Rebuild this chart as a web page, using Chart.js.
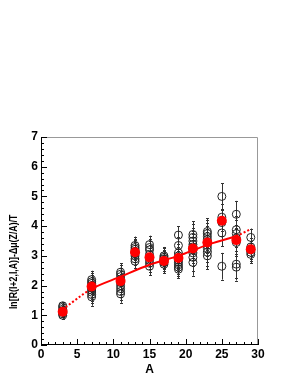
<!DOCTYPE html>
<html>
<head>
<meta charset="utf-8">
<script src="https://cdn.jsdelivr.net/npm/chart.js@4"></script>
<style>
  html, body { margin: 0; padding: 0; background: #fff; }
  canvas { display: block; }
</style>
</head>
<body>
<canvas id="chart" width="298" height="385"></canvas>
<script>
// A values of the columns
const massNumbers = [3, 7, 11, 13, 15, 17, 19, 21, 23, 25, 27, 29];

// open circles, one list per column
const circleValues = [
    [1.0, 1.05, 1.1, 1.15, 1.2, 1.27, 1.32],
    [1.62, 1.7, 1.78, 1.85, 1.92, 2.0, 2.07, 2.13, 2.2],
    [1.72, 1.8, 1.9, 2.0, 2.1, 2.2, 2.3, 2.38, 2.45],
    [2.82, 2.9, 3.0, 3.08, 3.15, 3.22, 3.28, 3.35],
    [2.65, 2.75, 2.85, 2.95, 3.05, 3.2, 3.28, 3.38],
    [2.72, 2.78, 2.85, 2.9, 2.95, 3.0],
    [2.55, 2.62, 2.7, 2.78, 2.85, 2.92, 3.0, 3.1, 3.35, 3.7],
    [2.78, 2.95, 3.1, 3.2, 3.3, 3.38, 3.5, 3.62, 3.72],
    [3.0, 3.12, 3.25, 3.35, 3.45, 3.55, 3.65, 3.75, 3.82],
    [2.65, 3.77, 4.12, 4.3, 5.0],
    [2.62, 2.72, 3.45, 3.6, 3.75, 3.88, 4.4],
    [3.05, 3.12, 3.2, 3.3, 3.62]
];

// error of the circles in each column
const circleErrors = [0.12, 0.3, 0.3, 0.3, 0.3, 0.3, 0.3, 0.45, 0.45, 0.45, 0.45, 0.3];

// red means
const meanValues = [1.12, 1.97, 2.15, 3.12, 2.95, 2.83, 2.93, 3.25, 3.45, 4.18, 3.53, 3.22];

// fit line
const fitA = [3, 7, 11, 15, 19, 23, 27, 29];
const fitValues = [1.2, 1.89, 2.3, 2.7, 3.0, 3.37, 3.67, 3.9];

const xTicks = [0, 5, 10, 15, 20, 25, 30];
const yTitle = 'ln[R(I+2,I,A)]-\u0394\u03bc(Z/A)/T';

const circlePoints = [];
massNumbers.forEach(function(a, i) {
    circleValues[i].forEach(function(v) {
        circlePoints.push({ x: a, y: v, err: circleErrors[i] });
    });
});

const meanPoints = massNumbers.map(function(a, i) { return { x: a, y: meanValues[i] }; });
const fitPoints = fitA.map(function(a, i) { return { x: a, y: fitValues[i] }; });

// error bars with small caps, drawn under the markers
const errorBars = {
    id: 'errorBars',
    beforeDatasetsDraw: function(chart) {
        const ctx = chart.ctx;
        const xs = chart.scales.x, ys = chart.scales.y;
        ctx.save();
        ctx.strokeStyle = '#333';
        ctx.lineWidth = 1;
        circlePoints.forEach(function(p) {
            const px = Math.round(xs.getPixelForValue(p.x)) + 0.5;
            const top = ys.getPixelForValue(p.y + p.err);
            const bot = ys.getPixelForValue(p.y - p.err);
            ctx.beginPath();
            ctx.moveTo(px, top);
            ctx.lineTo(px, bot);
            ctx.moveTo(px - 1.5, Math.round(top) + 0.5);
            ctx.lineTo(px + 1.5, Math.round(top) + 0.5);
            ctx.moveTo(px - 1.5, Math.round(bot) + 0.5);
            ctx.lineTo(px + 1.5, Math.round(bot) + 0.5);
            ctx.stroke();
        });
        ctx.restore();
    }
};

// ROOT style frame with inward ticks, and the y title placed like ROOT does
const frame = {
    id: 'frame',
    afterDraw: function(chart) {
        const ctx = chart.ctx;
        const a = chart.chartArea;
        const xs = chart.scales.x, ys = chart.scales.y;
        ctx.save();
        ctx.lineWidth = 1;
        ctx.strokeStyle = '#999';
        ctx.beginPath();
        ctx.moveTo(a.left, a.top + 0.5);
        ctx.lineTo(a.right - 0.5, a.top + 0.5);
        ctx.lineTo(a.right - 0.5, a.bottom);
        ctx.stroke();
        ctx.strokeStyle = '#000';
        ctx.beginPath();
        ctx.moveTo(a.left + 0.5, a.top);
        ctx.lineTo(a.left + 0.5, a.bottom - 0.5);
        ctx.lineTo(a.right, a.bottom - 0.5);
        for (let v = 0; v <= 30; v++) {
            const px = Math.round(xs.getPixelForValue(v)) + 0.5;
            const len = v % 5 === 0 ? 6 : 3;
            ctx.moveTo(px, a.bottom);
            ctx.lineTo(px, a.bottom - len);
        }
        for (let k = 0; k <= 35; k++) {
            const py = Math.round(ys.getPixelForValue(k / 5)) + 0.5;
            const len = k % 5 === 0 ? 6 : 3;
            ctx.moveTo(a.left, py);
            ctx.lineTo(a.left + len, py);
        }
        ctx.stroke();

        // y title, a bit below the middle of the axis, narrow like the ROOT font
        ctx.translate(14, ys.getPixelForValue(2.8));
        ctx.rotate(-Math.PI / 2);
        ctx.scale(0.8, 1);
        ctx.fillStyle = '#000';
        ctx.font = 'bold 11px "Liberation Sans", Arial, sans-serif';
        ctx.textAlign = 'center';
        ctx.textBaseline = 'middle';
        ctx.fillText(yTitle, 0, 0);
        ctx.restore();
    }
};

new Chart(document.getElementById('chart'), {
    type: 'scatter',
    data: {
        datasets: [
            {
                label: 'fit',
                type: 'line',
                data: fitPoints,
                borderColor: '#ff0000',
                borderWidth: 2,
                pointRadius: 0,
                fill: false,
                tension: 0.3,
                segment: {
                    borderDash: function(c) {
                        return (c.p0.parsed.x < 7 || c.p1.parsed.x > 27) ? [2, 2] : undefined;
                    }
                },
                order: 1
            },
            {
                label: 'means',
                data: meanPoints,
                pointStyle: 'circle',
                pointRadius: 5,
                backgroundColor: '#ff0000',
                borderColor: '#ff0000',
                borderWidth: 0,
                order: 0
            },
            {
                label: 'circles',
                data: circlePoints,
                pointStyle: 'circle',
                pointRadius: 4,
                backgroundColor: 'rgba(0,0,0,0)',
                borderColor: '#222',
                borderWidth: 1,
                order: 2
            }
        ]
    },
    options: {
        responsive: false,
        animation: false,
        layout: { padding: { top: 137, right: 40, left: 0, bottom: 0 } },
        plugins: {
            legend: { display: false },
            tooltip: { enabled: false }
        },
        scales: {
            x: {
                type: 'linear',
                min: 0,
                max: 30,
                grid: { display: false, drawTicks: false },
                border: { display: false },
                afterBuildTicks: function(s) { s.ticks = xTicks.map(function(v) { return { value: v }; }); },
                afterFit: function(s) { s.height = 40; },
                ticks: {
                    color: '#000',
                    padding: 2,
                    maxRotation: 0,
                    font: { family: 'Liberation Sans', size: 12, weight: 'bold' }
                },
                title: {
                    display: true,
                    text: 'A',
                    color: '#000',
                    padding: { top: 2, bottom: 8 },
                    font: { family: 'Liberation Sans', size: 12, weight: 'bold' }
                }
            },
            y: {
                type: 'linear',
                min: 0,
                max: 7,
                grid: { display: false, drawTicks: false },
                border: { display: false },
                afterFit: function(s) { s.width = 41; },
                ticks: {
                    stepSize: 1,
                    color: '#000',
                    padding: 3,
                    font: { family: 'Liberation Sans', size: 12, weight: 'bold' }
                },
                title: { display: false }
            }
        }
    },
    plugins: [errorBars, frame]
});
</script>
</body>
</html>
